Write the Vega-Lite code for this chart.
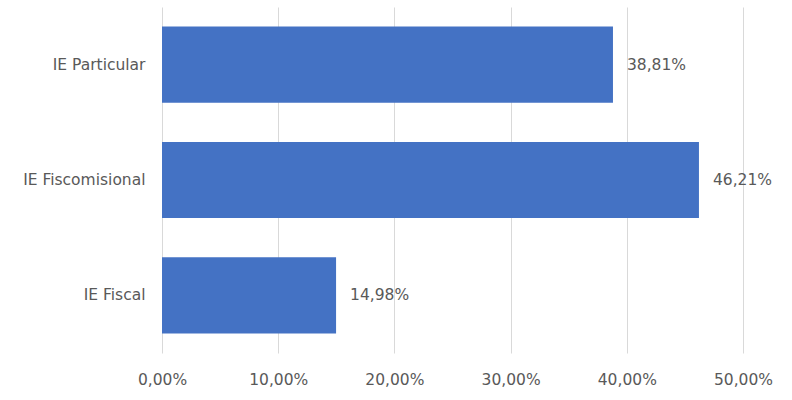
{
  "$schema": "https://vega.github.io/schema/vega-lite/v6.json",
  "autosize": {"type": "none"},
  "width": 581,
  "height": 346,
  "padding": {"left": 162, "top": 7, "right": 49, "bottom": 47},
  "background": "white",
  "config": {
    "locale": {"number": {"decimal": ",", "thousands": ".", "grouping": [3], "currency": ["$", ""]}},
    "view": {"stroke": null},
    "font": "DejaVu Sans"
  },
  "data": {"values": [
    {"tipo": "IE Particular", "valor": 0.3881},
    {"tipo": "IE Fiscomisional", "valor": 0.4621},
    {"tipo": "IE Fiscal", "valor": 0.1498}
  ]},
  "encoding": {
    "y": {"field": "tipo", "type": "nominal", "sort": null, "title": null,
      "scale": {"paddingInner": 0.34, "paddingOuter": 0.17},
      "axis": {"domain": false, "ticks": false, "labelFontSize": 15.5, "labelColor": "#595959", "labelPadding": 17, "labelFont": "DejaVu Sans", "labelLimit": 200}},
    "x": {"field": "valor", "type": "quantitative", "title": null,
      "scale": {"domain": [0, 0.5], "nice": false},
      "axis": {"format": ".2%", "values": [0, 0.1, 0.2, 0.3, 0.4, 0.5], "labelOverlap": false, "labelFlush": false, "labelBound": false, "domain": false, "ticks": false, "gridColor": "#d9d9d9", "gridWidth": 1, "labelFontSize": 15.5, "labelColor": "#595959", "labelPadding": 19, "labelFont": "DejaVu Sans"}}
  },
  "layer": [
    {"mark": {"type": "bar", "color": "#4472C4"}},
    {"mark": {"type": "text", "align": "left", "dx": 14, "fontSize": 15.5, "color": "#595959", "font": "DejaVu Sans"},
      "encoding": {"text": {"field": "valor", "type": "quantitative", "format": ".2%"}}}
  ]
}
